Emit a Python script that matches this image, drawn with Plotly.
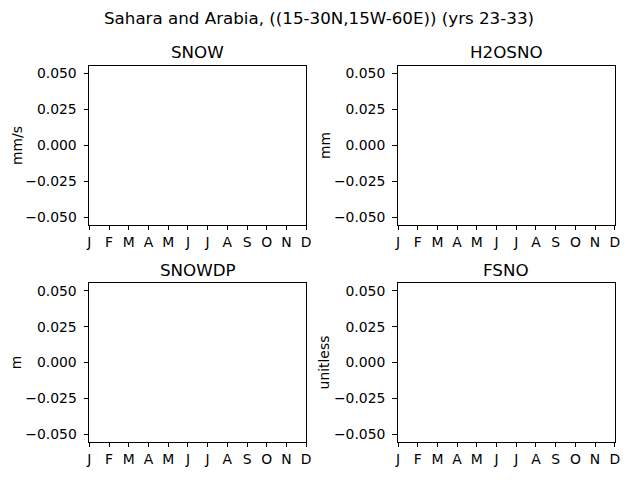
import plotly.graph_objects as go

months = list(range(1, 13))
month_labels = ["J", "F", "M", "A", "M", "J", "J", "A", "S", "O", "N", "D"]
panel_titles = ["SNOW", "H2OSNO", "SNOWDP", "FSNO"]
units = ["mm/s", "mm", "m", "unitless"]
# no data visible in the reference (all missing)
snow = [None] * 12
h2osno = [None] * 12
snowdp = [None] * 12
fsno = [None] * 12
series = [snow, h2osno, snowdp, fsno]
ytick_vals = [-0.05, -0.025, 0.0, 0.025, 0.05]
ytick_text = ["\u22120.050", "\u22120.025", "0.000", "0.025", "0.050"]

W, H = 640, 480
boxes = [  # x0, x1, ytop, ybottom in pixels
    (87.5, 307, 65, 224),
    (400, 619.5, 65, 224),
    (87.5, 307, 283, 441.5),
    (400, 619.5, 283, 441.5),
]
ylab_x = [14, 326, 14, 326]

fig = go.Figure()
font = dict(family="DejaVu Sans", size=13.9, color="black")
tfont = dict(family="DejaVu Sans", size=16.7, color="black")
annotations = []
for i, (x0, x1, yt, yb) in enumerate(boxes):
    n = "" if i == 0 else str(i + 1)
    fig.add_trace(go.Scatter(x=months, y=series[i], mode="lines",
                             line=dict(color="#1f77b4"), showlegend=False,
                             xaxis="x" + n, yaxis="y" + n))
    common = dict(showline=True, linecolor="black", linewidth=1, mirror=True,
                  ticks="outside", ticklen=4.9, tickwidth=1, tickcolor="black",
                  showgrid=False, zeroline=False, tickfont=font)
    fig.layout["xaxis" + n] = dict(domain=[x0 / W, x1 / W], anchor="y" + n,
                                   range=[1, 12], tickvals=months,
                                   ticktext=month_labels, **common)
    fig.layout["yaxis" + n] = dict(domain=[1 - yb / H, 1 - yt / H], anchor="x" + n,
                                   range=[-0.0552, 0.0552], tickvals=ytick_vals,
                                   ticktext=ytick_text, ticklabelstandoff=4,
                                   **common)
    annotations.append(dict(text=panel_titles[i], x=(x0 + x1) / 2 / W,
                            y=1 - (yt - 13.5) / H, xref="paper", yref="paper",
                            xanchor="center", yanchor="middle", showarrow=False,
                            font=tfont))
    annotations.append(dict(text=units[i], x=ylab_x[i] / W, y=1 - (yt + yb) / 2 / H,
                            xref="paper", yref="paper", xanchor="center",
                            yanchor="middle", textangle=-90, showarrow=False,
                            font=font))
annotations.append(dict(text="Sahara and Arabia, ((15-30N,15W-60E)) (yrs 23-33)",
                        x=0.5, y=1 - 17.5 / H, xref="paper", yref="paper",
                        xanchor="center", yanchor="middle", showarrow=False,
                        font=tfont))

fig.update_layout(width=W, height=H, margin=dict(l=0, r=0, t=0, b=0),
                  paper_bgcolor="white", plot_bgcolor="white",
                  annotations=annotations, showlegend=False)
fig.write_html("out.html", config={"displayModeBar": False},
               post_script="document.body.style.margin='0';document.body.style.padding='0';")
